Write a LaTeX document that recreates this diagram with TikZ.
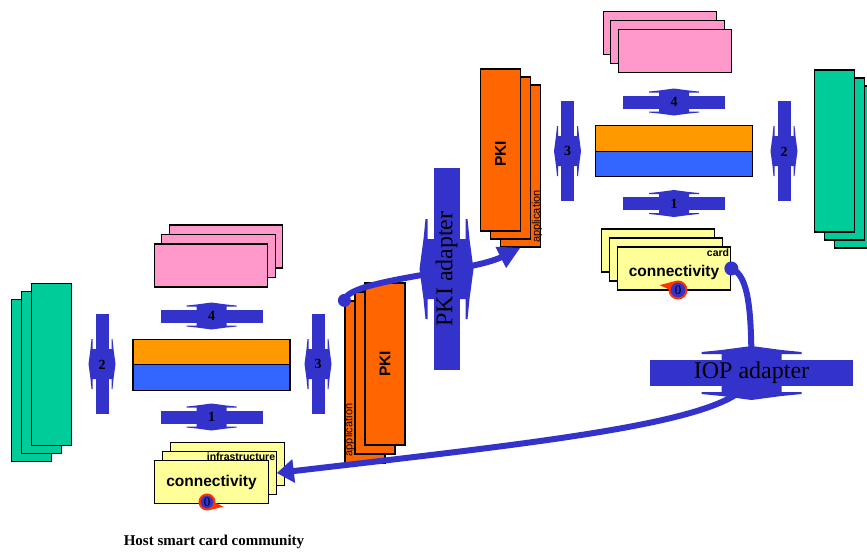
\documentclass[tikz,border=0pt]{standalone}
\usepackage{fontspec}
\setmainfont{Liberation Serif}
\setsansfont{Liberation Sans}
\usetikzlibrary{positioning,arrows.meta}
\definecolor{adblue}{HTML}{3333CC}
\definecolor{cardgreen}{HTML}{00CC99}
\definecolor{cardpink}{HTML}{FF99CC}
\definecolor{cardyellow}{HTML}{FFFF99}
\definecolor{pkiorange}{HTML}{FF6600}
\definecolor{layerorange}{HTML}{FF9900}
\definecolor{layerblue}{HTML}{3366FF}
\definecolor{badgered}{HTML}{FF3300}
\newcommand{\dblbar}[4]{%
  \begin{scope}[shift={#1}, rotate=#2, scale=#3]
    \fill[adblue] (-#4,-6.5) rectangle (#4,6.5);
    \fill[adblue] (0,-13.5) -- (15,-11.5) -- (25,-10.5) -- (25,-9.5) -- (15,-9.5)
      -- (15,9.5) -- (25,9.5) -- (25,10.5) -- (15,11.5) -- (0,13.5)
      -- (-15,11.5) -- (-25,10.5) -- (-25,9.5) -- (-15,9.5)
      -- (-15,-9.5) -- (-25,-9.5) -- (-25,-10.5) -- (-15,-11.5) -- cycle;
  \end{scope}}
\tikzset{
  card/.style={draw, line width=1.2pt, inner sep=0pt, rectangle},
  tall/.style={card, minimum width=40pt, minimum height=162pt},
  wide/.style={card, minimum width=113.5pt, minimum height=43pt},
  layer/.style={card, minimum width=157pt, minimum height=25.5pt},
  digit/.style={font=\bfseries\fontsize{14}{14}\selectfont, inner sep=0pt},
  adlabel/.style={font=\fontsize{24}{24}\selectfont, inner sep=0pt},
  cardtext/.style={font=\sffamily\bfseries\fontsize{15.5}{16}\selectfont, inner sep=0pt},
  tinytext/.style={font=\sffamily\bfseries\fontsize{10.5}{11}\selectfont, inner sep=1.5pt},
  apptext/.style={font=\sffamily\fontsize{11}{11}\selectfont, inner sep=0pt, rotate=90},
  badge/.style={circle, fill=adblue, draw=badgered, line width=2pt, inner sep=0pt,
    minimum size=15pt, font=\fontsize{13}{13}\selectfont},
  link/.style={adblue, line width=6pt}
}
\begin{document}
\begin{tikzpicture}[x=1pt, y=-1pt]
  \useasboundingbox (0,0) rectangle (867,552);
  % host side
  \node[tall, fill=cardgreen] (lgreen3) at (31.5,380.5) {};
  \node[tall, fill=cardgreen, on grid, above right=8pt and 10pt of lgreen3] (lgreen2) {};
  \node[tall, fill=cardgreen, on grid, above right=8pt and 10pt of lgreen2] (lgreen1) {};
  \node[wide, fill=cardpink] (lpink3) at (226,246.5) {};
  \node[wide, fill=cardpink, on grid, below left=9.5pt and 7.5pt of lpink3] (lpink2) {};
  \node[wide, fill=cardpink, on grid, below left=9.5pt and 7.5pt of lpink2] (lpink1) {};
  \node[layer, fill=layerorange] (lapp) at (211.5,352) {};
  \node[layer, fill=layerblue, on grid, below=25.5pt of lapp] (lcom) {};
  \node[wide, fill=cardyellow] (lyel3) at (227.5,464) {};
  \node[wide, fill=cardyellow, on grid, below left=9pt and 8pt of lyel3] (lyel2) {};
  \node[tinytext, anchor=north east] (linfra) at (lyel2.north east) {infrastructure};
  \node[wide, fill=cardyellow, on grid, below left=9pt and 8pt of lyel2] (lyel1) {};
  \node[cardtext] (lconn) at (lyel1.center) {connectivity};
  \node[tall, fill=pkiorange] (lpki3) at (365,382) {};
  \node[apptext] (lappl) at (349.5,430) {application};
  \node[tall, fill=pkiorange, on grid, above right=9pt and 10pt of lpki3] (lpki2) {};
  \node[tall, fill=pkiorange, on grid, above right=9pt and 10pt of lpki2] (lpki1) {};
  \node[cardtext, rotate=90] (lpkit) at (lpki1.center) {PKI};
  \node[badge] (lzero) at (207,502) {0};
  \fill[badgered] (lzero.-5) -- ++(8,4) -- (lzero.-70) -- cycle;
  \dblbar{(211.5,316)}{0}{1}{51}
  \node[digit] (lfour) at (211.5,316) {4};
  \dblbar{(211.5,417)}{0}{1}{51}
  \node[digit] (lone) at (211.5,417) {1};
  \dblbar{(102,364)}{90}{1}{50}
  \node[digit] (ltwo) at (102,365) {2};
  \dblbar{(318,364)}{90}{1}{50}
  \node[digit] (lthree) at (318,364) {3};
  \node[font=\bfseries\fontsize{15}{15}\selectfont] (title) at (214,542) {Host smart card community};
  % card side
  \node[wide, fill=cardpink] (rpink3) at (660,33) {};
  \node[wide, fill=cardpink, on grid, below right=9pt and 7.5pt of rpink3] (rpink2) {};
  \node[wide, fill=cardpink, on grid, below right=9pt and 7.5pt of rpink2] (rpink1) {};
  \node[layer, fill=layerorange] (rapp) at (674,138.5) {};
  \node[layer, fill=layerblue, on grid, below=25.5pt of rapp] (rcom) {};
  \node[tall, fill=cardgreen] (rgreen3) at (854.5,167) {};
  \node[tall, fill=cardgreen, on grid, above left=8pt and 10pt of rgreen3] (rgreen2) {};
  \node[tall, fill=cardgreen, on grid, above left=8pt and 10pt of rgreen2] (rgreen1) {};
  \node[tall, fill=pkiorange] (rpki3) at (520.5,166) {};
  \node[tall, fill=pkiorange, on grid, above left=8pt and 10pt of rpki3] (rpki2) {};
  \node[tall, fill=pkiorange, on grid, above left=8pt and 10pt of rpki2] (rpki1) {};
  \node[cardtext, rotate=90] (rpkit) at ([yshift=-4pt]rpki1.center) {PKI};
  \node[apptext] (rappl) at (537,216.5) {application};
  \node[wide, fill=cardyellow] (ryel3) at (658,250.5) {};
  \node[wide, fill=cardyellow, on grid, below right=9pt and 8pt of ryel3] (ryel2) {};
  \node[wide, fill=cardyellow, on grid, below right=9pt and 8pt of ryel2] (ryel1) {};
  \node[tinytext, anchor=north east, inner sep=2pt] (rcard) at (ryel1.north east) {card};
  \node[cardtext] (rconn) at ([yshift=-4pt]ryel1.center) {connectivity};
  \node[badge, minimum size=17pt] (rzero) at (678,290) {0};
  \fill[badgered] (rzero.175) -- ++(-9,-4) -- (rzero.115) -- cycle;
  \dblbar{(674,102)}{0}{1}{51}
  \node[digit] (rfour) at (674,102) {4};
  \dblbar{(674,203.5)}{0}{1}{51}
  \node[digit] (rone) at (674,203.5) {1};
  \dblbar{(567.5,151)}{90}{1}{50}
  \node[digit] (rthree) at (567.5,151) {3};
  \dblbar{(784,151)}{90}{1}{50}
  \node[digit] (rtwo) at (784,152) {2};
  % adapters
  \coordinate (pkic) at (446.5,269);
  \coordinate (iopc) at (751.5,373);
  \fill[adblue] (lpki3.north west) circle (6.5);
  \draw[link, -{Triangle[length=22pt,width=22pt]}] (lpki3.north west)
    .. controls +(3,-21) and +(-50,25) .. (rpki3.south);
  \fill[adblue] (ryel1.east) circle (7);
  \draw[link, -{Triangle[length=17pt,width=23pt]}] (ryel1.east)
    .. controls +(18,7) and +(0,-60) .. (iopc)
    .. controls +(0,47) and +(284,-33) .. (lyel2.east);
  \dblbar{(pkic)}{90}{2}{50.5}
  \node[adlabel, rotate=90] (pkiad) at (pkic) {PKI adapter};
  \dblbar{(iopc)}{0}{2}{50.75}
  \node[adlabel] (iopad) at (iopc) {IOP adapter};
\end{tikzpicture}
\end{document}
